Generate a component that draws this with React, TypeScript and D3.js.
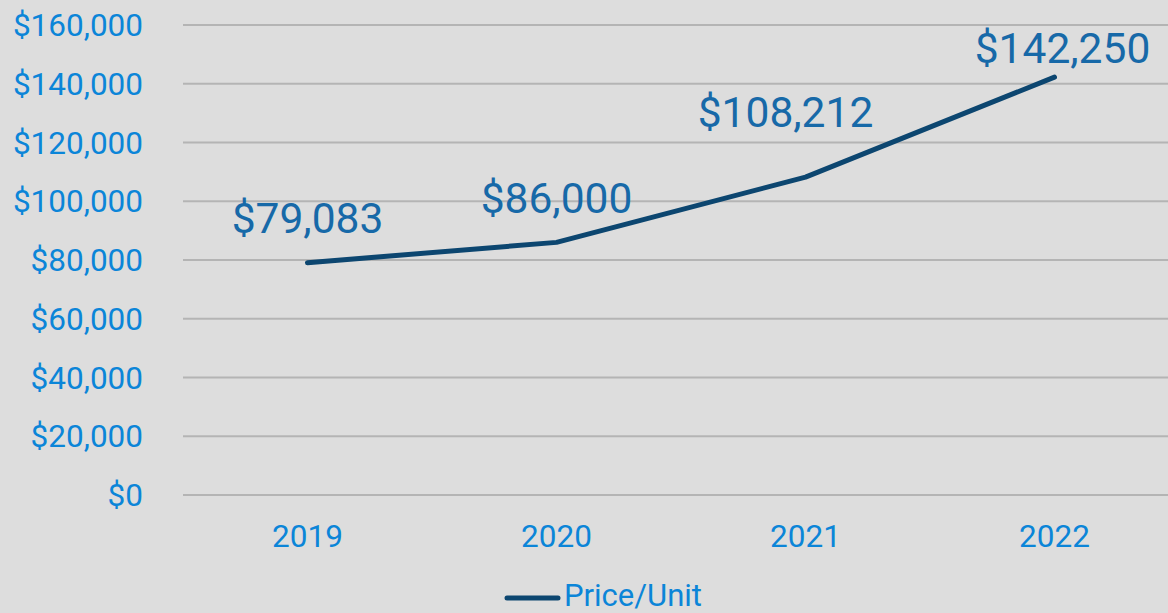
import React from "react";
import * as d3 from "d3";

const years = ["2019", "2020", "2021", "2022"];
const pricePerUnit = [79083, 86000, 108212, 142250];
const yTicks = [0, 20000, 40000, 60000, 80000, 100000, 120000, 140000, 160000];
const seriesName = "Price/Unit";
// manual label nudges (dx, dy) as placed in the original
const labelNudgeX = [0, 0, -20, 8];
const labelNudgeY = [-30, -29, -50, -14];

const W = 1168;
const H = 613;
const BG = "#dddddd";
const GRID = "#b4b4b4";
const TICK_COLOR = "#0b85d8";
const LABEL_COLOR = "#1769a8";
const LINE_COLOR = "#0c4670";
const FONT = "Roboto, 'Noto Sans', sans-serif";

export default function App() {
  const left = 183;
  const right = 1179;
  const top = 25;
  const bottom = 495;

  const x = d3.scaleBand<string>().domain(years).range([left, right]).padding(0);
  const y = d3.scaleLinear().domain([0, 160000]).range([bottom, top]);
  const fmt = (v: number) => "$" + d3.format(",")(v);

  const line = d3
    .line<number>()
    .x((_, i) => (x(years[i]) as number) + x.bandwidth() / 2)
    .y((d) => y(d));

  return (
    <svg
      width={W}
      height={H}
      style={{ position: "absolute", left: 0, top: 0, background: BG }}
      fontFamily={FONT}
    >
      <rect x={0} y={0} width={W} height={H} fill={BG} />
      {yTicks.map((t) => (
        <g key={t}>
          <line x1={left} x2={W} y1={y(t)} y2={y(t)} stroke={GRID} strokeWidth={2} />
          <text
            x={143}
            y={y(t)}
            dy="0.35em"
            textAnchor="end"
            fontSize={31.5}
            fill={TICK_COLOR}
          >
            {fmt(t)}
          </text>
        </g>
      ))}
      {years.map((yr) => (
        <text
          key={yr}
          x={(x(yr) as number) + x.bandwidth() / 2}
          y={547}
          textAnchor="middle"
          fontSize={31.5}
          fill={TICK_COLOR}
        >
          {yr}
        </text>
      ))}
      <path
        d={line(pricePerUnit) || ""}
        fill="none"
        stroke={LINE_COLOR}
        strokeWidth={5}
        strokeLinejoin="round"
        strokeLinecap="round"
      />
      {pricePerUnit.map((v, i) => (
        <text
          key={i}
          x={(x(years[i]) as number) + x.bandwidth() / 2 + labelNudgeX[i]}
          y={y(v) + labelNudgeY[i]}
          textAnchor="middle"
          fontSize={42.5}
          fill={LABEL_COLOR}
        >
          {fmt(v)}
        </text>
      ))}
      <g>
        <line x1={507} x2={558} y1={598} y2={598} stroke={LINE_COLOR} strokeWidth={5} strokeLinecap="round" />
        <text x={564} y={606} fontSize={31} fill={TICK_COLOR}>
          {seriesName}
        </text>
      </g>
    </svg>
  );
}
